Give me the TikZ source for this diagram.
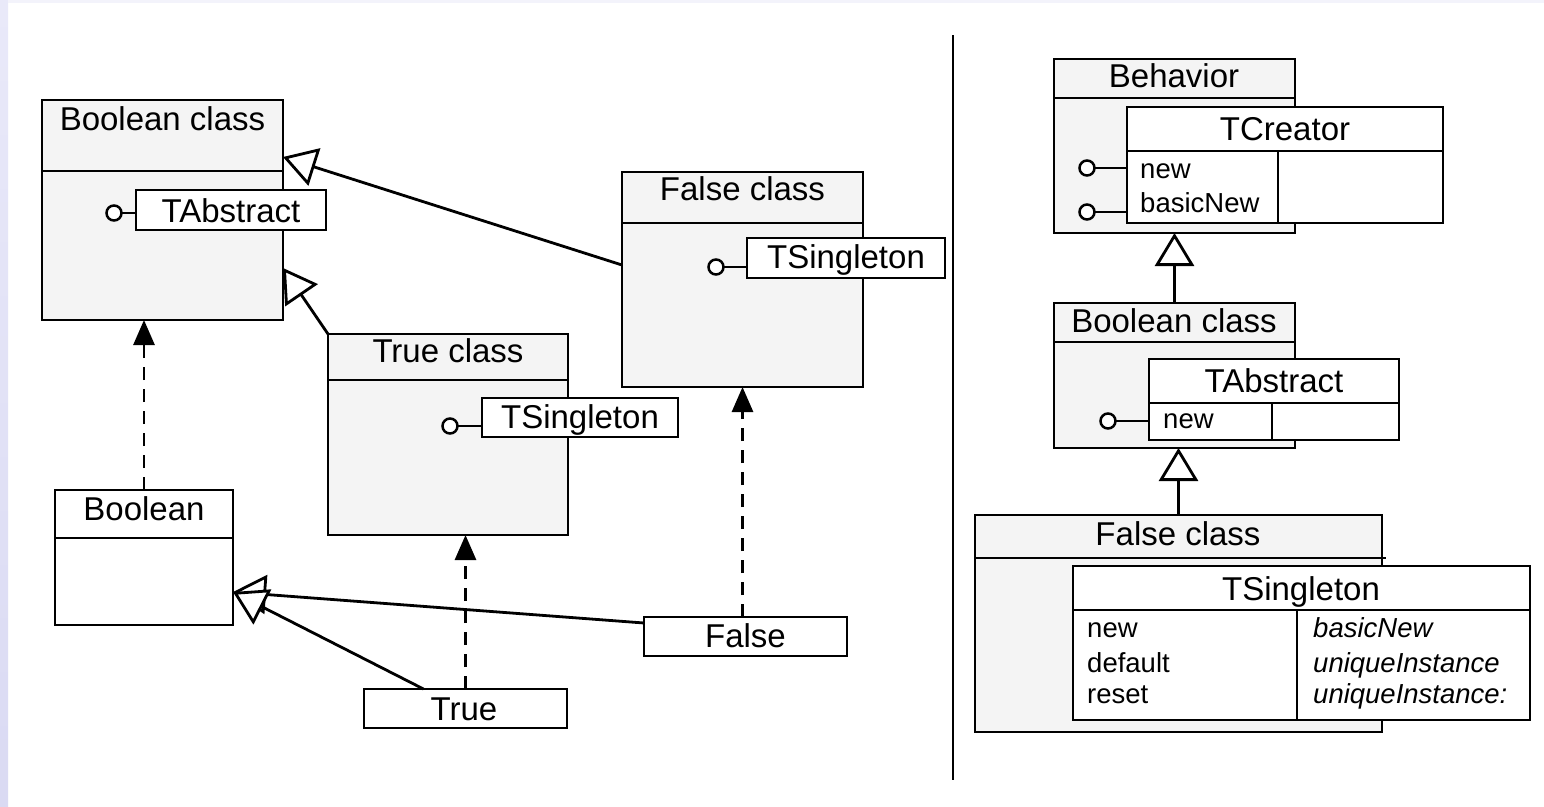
\documentclass[tikz,border=0pt]{standalone}
\usepackage{fontspec}
\setmainfont{Liberation Sans}
\usetikzlibrary{arrows.meta}
\definecolor{boxgray}{HTML}{F4F4F4}
\definecolor{stripA}{HTML}{E9E9F9}
\definecolor{stripB}{HTML}{DADAF3}
\definecolor{topstrip}{HTML}{F3F3FB}
\begin{document}
\begin{tikzpicture}[x=1pt,y=-1pt,
  lw/.style={line width=2.9pt},
  outerbox/.style={draw, fill=boxgray, line width=2.9pt, rectangle, inner sep=0pt, outer sep=0pt, anchor=north west},
  innerbox/.style={draw, fill=white, line width=2.9pt, rectangle, inner sep=0pt, outer sep=0pt, anchor=north west},
  ttl/.style={font=\fontsize{33}{40}\selectfont, inner sep=0pt, anchor=base},
  op/.style={font=\fontsize{27.5}{33}\selectfont, inner sep=0pt, anchor=base west},
  opi/.style={op, font=\fontsize{27.5}{33}\selectfont\itshape},
  lolli/.style={circle, draw, fill=white, line width=2.5pt, minimum size=15pt, inner sep=0pt, outer sep=0pt},
  gen/.style={line width=2.8pt, -{Triangle[length=33pt, width=39pt, fill=white]}},
  dep/.style={line width=2.8pt, dash pattern=on 13pt off 9pt, -{Triangle[length=25pt, width=21pt]}}]

% page background with the lavender edge
\useasboundingbox (0,0) rectangle (1544,806);
\fill[white] (0,0) rectangle (1544,806);
\shade[top color=stripA, bottom color=stripB] (0,0) rectangle (8,806);
\fill[topstrip] (8,0) rectangle (1544,3);

% ---------------- left: class diagram ----------------
% Boolean class
\node[outerbox, minimum width=241pt, minimum height=220pt] (bcl) at (42,100) {};
\draw[lw] (42,171) -- (283,171);
\node[ttl] (bclT) at (162.5,130) {Boolean class};
\node[innerbox, minimum width=190pt, minimum height=40pt] (taL) at (136,190) {};
\node[ttl] (taLT) at (231,222) {TAbstract};
\node[lolli] (cA) at (114,213) {};
\draw[lw] (cA) -- (cA -| taL.west);

% False class
\node[outerbox, minimum width=241pt, minimum height=215pt] (fcl) at (622,172) {};
\draw[lw] (622,223) -- (863,223);
\node[ttl] (fclT) at (742.5,200) {False class};
\node[innerbox, minimum width=198pt, minimum height=40pt] (tsF) at (747,238) {};
\node[ttl] (tsFT) at (846,268) {TSingleton};
\node[lolli] (cF) at (716,267) {};
\draw[lw] (cF) -- (cF -| tsF.west);

% True class
\node[outerbox, minimum width=240pt, minimum height=201pt] (tcl) at (328,334) {};
\draw[lw] (328,380) -- (568,380);
\node[ttl] (tclT) at (448,362) {True class};
\node[innerbox, minimum width=196pt, minimum height=39pt] (tsT) at (482,398) {};
\node[ttl] (tsTT) at (580,428) {TSingleton};
\node[lolli] (cT) at (450,426) {};
\draw[lw] (cT) -- (cT -| tsT.west);

% Boolean
\node[innerbox, minimum width=178pt, minimum height=135pt] (bo) at (55,490) {};
\draw[lw] (55,538) -- (233,538);
\node[ttl] (boT) at (144,520) {Boolean};

% instances
\node[innerbox, minimum width=203pt, minimum height=39pt] (tr) at (364,689) {};
\node[ttl] (trT) at (464,720) {True};
\node[innerbox, minimum width=203pt, minimum height=39pt] (fa) at (644,617) {};
\node[ttl] (faT) at (745.5,647) {False};

% generalizations
\draw[gen] ([yshift=14.5pt]fcl.west) -- ([yshift=-57pt]bcl.north east);
\draw[gen] (tcl.north west) -- ([yshift=-168pt]bcl.north east);
\draw[gen] ([yshift=13.5pt]fa.west) -- ([yshift=-34.5pt]bo.east);
\draw[gen] ([xshift=-42pt]tr.north) -- ([yshift=-34.5pt]bo.east);

% instance-of
\draw[dep] (bo.north) -- (bo.north |- bcl.south);
\draw[dep] (tr.north) -- (tr.north |- tcl.south);
\draw[dep] (fcl.south |- fa.north) -- (fcl.south);

% ---------------- divider ----------------
\draw[line width=2.9pt] (953,35) -- (953,780);

% ---------------- right: traits view ----------------
% Behavior with TCreator
\node[outerbox, minimum width=241pt, minimum height=174pt] (beh) at (1054,59) {};
\draw[lw] (1054,98) -- (1295,98);
\node[ttl] (behT) at (1174,87) {Behavior};
\node[innerbox, minimum width=316pt, minimum height=116pt] (tcr) at (1127,107) {};
\draw[lw] (1127,151) -- (1443,151);
\draw[lw] (1278,151) -- (1278,223);
\node[ttl] (tcrT) at (1285,140) {TCreator};
\node[op] (tcrA) at (1140,178) {new};
\node[op] (tcrB) at (1140,212) {basicNew};
\node[lolli] (cR1) at (1087,168) {};
\node[lolli] (cR2) at (1087,212) {};
\draw[lw] (cR1) -- (cR1 -| tcr.west);
\draw[lw] (cR2) -- (cR2 -| tcr.west);

% Boolean class with TAbstract
\node[outerbox, minimum width=241pt, minimum height=145pt] (bcr) at (1054,303) {};
\draw[lw] (1054,342) -- (1295,342);
\node[ttl] (bcrT) at (1174,332) {Boolean class};
\node[innerbox, minimum width=250pt, minimum height=81pt] (tar) at (1149,359) {};
\draw[lw] (1149,403) -- (1399,403);
\draw[lw] (1272,403) -- (1272,440);
\node[ttl] (tarT) at (1274,392) {TAbstract};
\node[op] (tarA) at (1163,428) {new};
\node[lolli] (cR3) at (1108,421) {};
\draw[lw] (cR3) -- (cR3 -| tar.west);

% False class with TSingleton
\node[outerbox, minimum width=407pt, minimum height=217pt] (fcr) at (975,515) {};
\draw[lw] (975,558) -- (1386,558);
\node[ttl] (fcrT) at (1178,545) {False class};
\node[innerbox, minimum width=457pt, minimum height=154pt] (tsr) at (1073,566) {};
\draw[lw] (1073,610) -- (1530,610);
\draw[lw] (1297,610) -- (1297,720);
\node[ttl] (tsrT) at (1301,600) {TSingleton};
\node[op] (tsrA) at (1087,637) {new};
\node[op] (tsrB) at (1087,672) {default};
\node[op] (tsrC) at (1087,703) {reset};
\node[opi] (tsrD) at (1313,637) {basicNew};
\node[opi] (tsrE) at (1313,672) {uniqueInstance};
\node[opi] (tsrF) at (1313,703) {uniqueInstance:};

% inheritance chain
\draw[gen] (bcr.north) -- (bcr.north |- beh.south);
\draw[gen] (fcr.north) -- (fcr.north |- bcr.south);
\end{tikzpicture}
\end{document}
